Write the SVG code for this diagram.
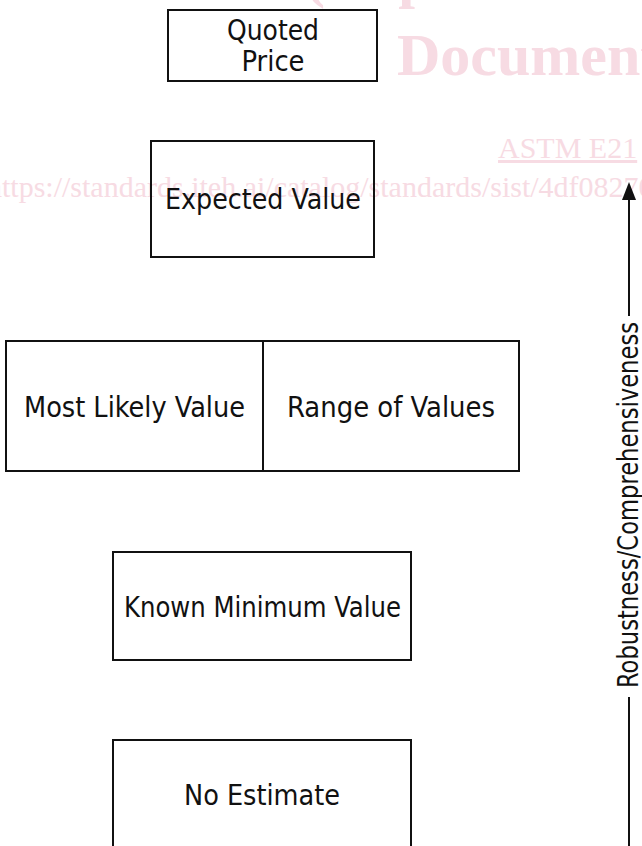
<svg xmlns="http://www.w3.org/2000/svg" width="642" height="846" viewBox="0 0 642 846">
<style>
.box{fill:none;stroke:#111;stroke-width:2}
.lbl{font-family:"DejaVu Sans Condensed","DejaVu Sans",sans-serif;font-stretch:condensed;font-size:28px;fill:#111;text-anchor:middle}
.wm{font-family:"Liberation Serif",serif;fill:#f7dbe3}
.axis{stroke:#111;stroke-width:2;fill:none}
</style>
<rect width="642" height="846" fill="#fff"/>
<g id="watermark">
<text class="wm" x="305" y="-4" font-size="60" font-weight="bold">(https://standards.iteh.ai)</text>
<text class="wm" x="397" y="75" font-size="60" font-weight="bold">Document Preview</text>
<text class="wm" x="498" y="158" font-size="30" text-decoration="underline">ASTM E21</text>
<text class="wm" x="-13" y="197" font-size="30">https://standards.iteh.ai/catalog/standards/sist/4df08270</text>
</g>
<g id="node-quoted-price">
<rect class="box" x="168" y="10" width="209" height="71"/>
<text class="lbl" x="273" y="40" textLength="92" lengthAdjust="spacingAndGlyphs">Quoted</text>
<text class="lbl" x="273" y="71" textLength="63" lengthAdjust="spacingAndGlyphs">Price</text>
</g>
<g id="node-expected-value">
<rect class="box" x="151" y="141" width="223" height="116"/>
<text class="lbl" x="263" y="209" textLength="196" lengthAdjust="spacingAndGlyphs">Expected Value</text>
</g>
<g id="node-most-likely-range">
<rect class="box" x="6" y="341" width="513" height="130"/>
<line class="box" x1="263" y1="341" x2="263" y2="471"/>
<text class="lbl" x="134.5" y="417" textLength="221" lengthAdjust="spacingAndGlyphs">Most Likely Value</text>
<text class="lbl" x="391" y="417" textLength="208" lengthAdjust="spacingAndGlyphs">Range of Values</text>
</g>
<g id="node-known-minimum">
<rect class="box" x="113" y="552" width="298" height="108"/>
<text class="lbl" x="262.5" y="617" textLength="277" lengthAdjust="spacingAndGlyphs">Known Minimum Value</text>
</g>
<g id="node-no-estimate">
<rect class="box" x="113" y="740" width="298" height="120"/>
<text class="lbl" x="262" y="805" textLength="156" lengthAdjust="spacingAndGlyphs">No Estimate</text>
</g>
<g id="connectors">
<line class="axis" x1="629" y1="846" x2="629" y2="697"/>
<line class="axis" x1="629" y1="316" x2="629" y2="198"/>
<path d="M622,200 L629,182 L636,200 Z" fill="#111"/>
<text class="lbl" transform="translate(638,505) rotate(-90)" x="0" y="0" textLength="366" lengthAdjust="spacingAndGlyphs">Robustness/Comprehensiveness</text>
</g>
</svg>
